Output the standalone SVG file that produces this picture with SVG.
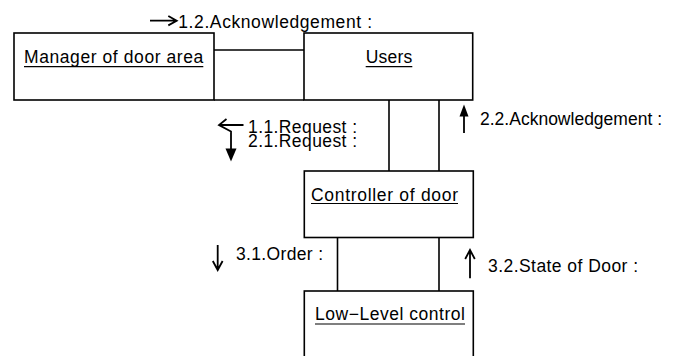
<svg xmlns="http://www.w3.org/2000/svg" width="689" height="356" viewBox="0 0 689 356">
<style>
.box{fill:#fff;stroke:#000;stroke-width:1.6}
.ln{fill:none;stroke:#000;stroke-width:1.6}
.ul{stroke:#000;stroke-width:1.2}
.t{font-family:"Liberation Sans",Arial,Helvetica,sans-serif;font-size:17.5px;fill:#000}
.ar{fill:none;stroke:#000;stroke-width:1.8}
.af{fill:#000;stroke:none}
</style>
<rect width="689" height="356" fill="#fff"/>
<g id="connectors">
  <line class="ln" x1="214" y1="50" x2="304" y2="50"/>
  <line class="ln" x1="214" y1="100" x2="304" y2="100"/>
  <line class="ln" x1="389" y1="100" x2="389" y2="171"/>
  <line class="ln" x1="439" y1="100" x2="439" y2="171"/>
  <line class="ln" x1="337.5" y1="237.5" x2="337.5" y2="291"/>
  <line class="ln" x1="439" y1="237.5" x2="439" y2="291"/>
</g>
<g id="manager">
  <rect class="box" x="14" y="33" width="200" height="67"/>
  <text class="t" x="24" y="63.3" textLength="179.3" lengthAdjust="spacing">Manager of door area</text>
  <line class="ul" x1="24" y1="66.7" x2="203.3" y2="66.7"/>
</g>
<g id="users">
  <rect class="box" x="304" y="33" width="168.7" height="67"/>
  <text class="t" x="365.7" y="63.3" textLength="46.6" lengthAdjust="spacing">Users</text>
  <line class="ul" x1="365.7" y1="66.7" x2="412.3" y2="66.7"/>
</g>
<g id="controller">
  <rect class="box" x="304.3" y="171" width="169" height="66.5"/>
  <text class="t" x="311" y="200.7" textLength="147" lengthAdjust="spacing">Controller of door</text>
  <line class="ul" x1="311" y1="203.5" x2="458" y2="203.5"/>
</g>
<g id="lowlevel">
  <rect class="box" x="304.3" y="291" width="169" height="80"/>
  <text class="t" x="315" y="320" textLength="150" lengthAdjust="spacing">Low−Level control</text>
  <line class="ul" x1="315" y1="324" x2="465" y2="324"/>
</g>
<g id="labels">
  <path class="ar" d="M150,20.7 H176.5 M168.3,16 L176.7,20.7 L168.3,25.4"/>
  <text class="t" x="178.3" y="28.3" textLength="193.7" lengthAdjust="spacing">1.2.Acknowledgement :</text>

  <path class="ar" d="M243.5,125 H219 M226.5,119 L219,125 L231,131.5 V151"/>
  <polygon class="af" points="225.5,148.5 236.5,148.5 231,161.5"/>
  <text class="t" x="248" y="133.3" textLength="109" lengthAdjust="spacing">1.1.Request :</text>
  <text class="t" x="248" y="147.3" textLength="109" lengthAdjust="spacing">2.1.Request :</text>

  <path class="ar" d="M464,112 V133"/>
  <polygon class="af" points="459.5,116.5 468.5,116.5 464,104.5"/>
  <text class="t" x="480" y="125" textLength="182" lengthAdjust="spacing">2.2.Acknowledgement :</text>

  <path class="ar" d="M217.7,245 V269.5 M212.8,261 L217.7,270 L222.6,261"/>
  <text class="t" x="236" y="260" textLength="87" lengthAdjust="spacing">3.1.Order :</text>

  <path class="ar" d="M470,250.5 V278.3 M465.2,259 L470,250 L474.8,259"/>
  <text class="t" x="488" y="271.7" textLength="150" lengthAdjust="spacing">3.2.State of Door :</text>
</g>
</svg>
